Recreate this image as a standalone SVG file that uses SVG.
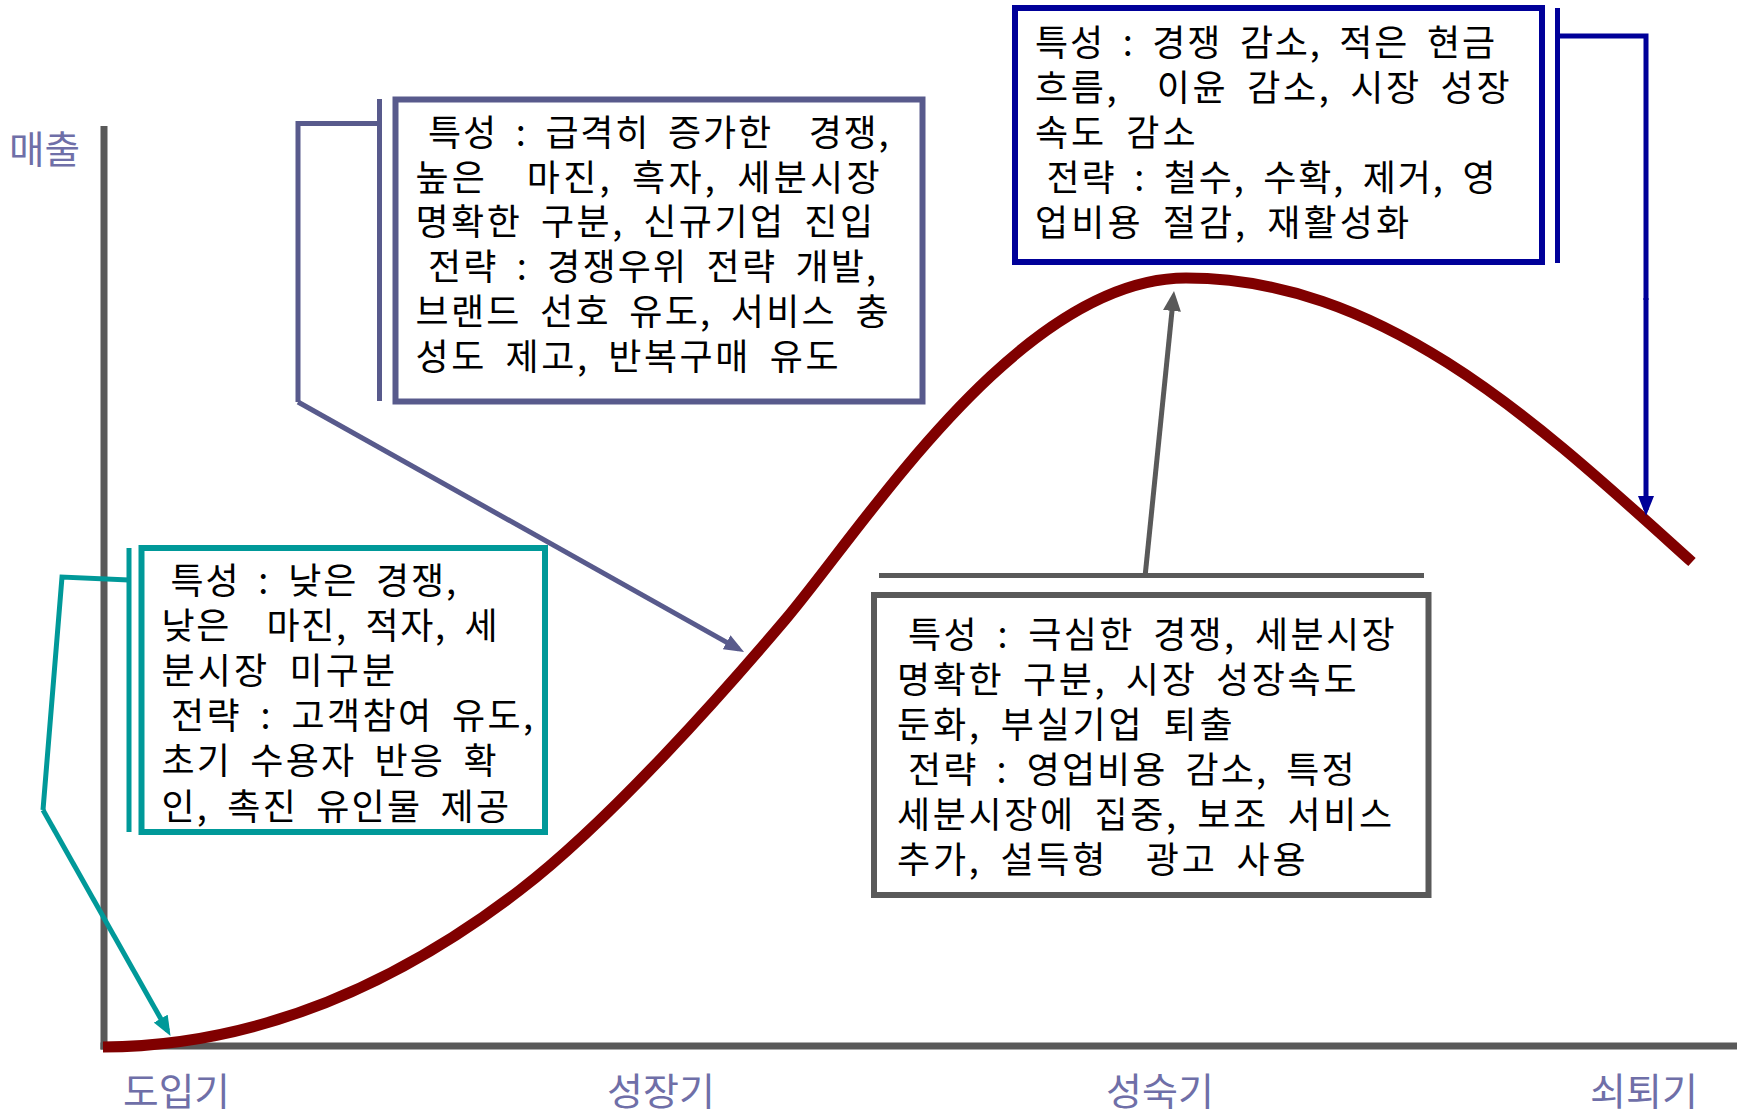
<svg xmlns="http://www.w3.org/2000/svg" width="1740" height="1111" viewBox="0 0 1740 1111" xml:space="preserve">
<style>
.t{font-family:"Noto Sans CJK KR",sans-serif;font-size:36px;fill:#000;white-space:pre;word-spacing:8px}
.ax{font-family:"Noto Sans CJK KR",sans-serif;font-size:38px;fill:#6f6fa8}
.box{fill:#fff;stroke-width:6}
.axis{stroke:#595959;stroke-width:7;fill:none}
.pu{stroke:#585a8c}
.te{stroke:#009999}
.bl{stroke:#000099}
.gr{stroke:#595959}
.ln{fill:none;stroke-width:5}
</style>
<defs>
<marker id="mPu" viewBox="0 0 20 16" markerWidth="20" markerHeight="16" refX="14" refY="8" orient="auto" markerUnits="userSpaceOnUse"><path d="M0,0 L20,8 L0,16 z" fill="#585a8c"/></marker>
<marker id="mTe" viewBox="0 0 20 16" markerWidth="20" markerHeight="16" refX="14" refY="8" orient="auto" markerUnits="userSpaceOnUse"><path d="M0,0 L20,8 L0,16 z" fill="#009999"/></marker>
<marker id="mBl" viewBox="0 0 20 16" markerWidth="20" markerHeight="16" refX="14" refY="8" orient="auto" markerUnits="userSpaceOnUse"><path d="M0,0 L20,8 L0,16 z" fill="#000099"/></marker>
<marker id="mGr" viewBox="0 0 20 18" markerWidth="20" markerHeight="18" refX="14" refY="9" orient="auto" markerUnits="userSpaceOnUse"><path d="M0,0 L20,9 L0,18 z" fill="#595959"/></marker>
</defs>
<rect width="1740" height="1111" fill="#fff"/>

<g id="axes">
<line class="axis" x1="104" y1="126" x2="104" y2="1049.5"/>
<line class="axis" x1="100.5" y1="1046" x2="1737" y2="1046"/>
<text class="ax" x="9" y="163" textLength="71" lengthAdjust="spacingAndGlyphs">매출</text>
<text class="ax" x="123" y="1105" textLength="107" lengthAdjust="spacingAndGlyphs">도입기</text>
<text class="ax" x="607" y="1105" textLength="108" lengthAdjust="spacingAndGlyphs">성장기</text>
<text class="ax" x="1106" y="1105" textLength="108" lengthAdjust="spacingAndGlyphs">성숙기</text>
<text class="ax" x="1590" y="1105" textLength="108" lengthAdjust="spacingAndGlyphs">쇠퇴기</text>
</g>

<g id="curve">
<path d="M103,1047 C260,1046 400,982 520,890 C610,821 725,690.8 785,620 C865,525.6 1020,278 1186,278 C1386,278 1542,427 1692,562" fill="none" stroke="#800000" stroke-width="11"/>
</g>

<g id="connectors">
<line class="ln pu" x1="379.5" y1="99" x2="379.5" y2="401"/>
<polyline class="ln pu" points="379.5,123.5 298,123.5 298,402"/>
<line class="ln pu" stroke-width="4.5" x1="298" y1="402" x2="738.8" y2="649.1" marker-end="url(#mPu)"/>

<line class="ln te" x1="129" y1="548" x2="129" y2="832"/>
<polyline class="ln te" points="129,580 62,577 43,810"/>
<line class="ln te" x1="43" y1="810" x2="167.6" y2="1030.8" marker-end="url(#mTe)"/>

<line class="ln bl" x1="1557.5" y1="8" x2="1557.5" y2="263"/>
<polyline class="ln bl" points="1557.5,36 1646,36 1646,300"/>
<line class="ln bl" x1="1646" y1="298" x2="1646" y2="510" marker-end="url(#mBl)"/>

<line class="ln gr" x1="879" y1="575.5" x2="1424" y2="575.5"/>
<line class="ln gr" stroke-width="5.5" x1="1145" y1="577" x2="1173.4" y2="297" marker-end="url(#mGr)"/>
</g>

<g id="node-growth">
<rect class="box pu" x="395.5" y="99.5" width="527" height="302"/>
<text class="t" x="428" y="146" textLength="460.5" lengthAdjust="spacing">특성 : 급격히 증가한  경쟁,</text>
<text class="t" x="415.5" y="190.7" textLength="464" lengthAdjust="spacing">높은  마진, 흑자, 세분시장</text>
<text class="t" x="415.5" y="235.4" textLength="457.5" lengthAdjust="spacing">명확한 구분, 신규기업 진입</text>
<text class="t" x="428" y="280.1" textLength="448" lengthAdjust="spacing">전략 : 경쟁우위 전략 개발,</text>
<text class="t" x="415.5" y="324.8" textLength="473" lengthAdjust="spacing">브랜드 선호 유도, 서비스 충</text>
<text class="t" x="415.5" y="369.5" textLength="423" lengthAdjust="spacing">성도 제고, 반복구매 유도</text>
</g>

<g id="node-intro">
<rect class="box te" x="141.5" y="548" width="403.5" height="284"/>
<text class="t" x="170.5" y="593.5" textLength="285.5" lengthAdjust="spacing">특성 : 낮은 경쟁,</text>
<text class="t" x="161.5" y="638.7" textLength="336" lengthAdjust="spacing">낮은  마진, 적자, 세</text>
<text class="t" x="161.5" y="683.9" textLength="233.5" lengthAdjust="spacing">분시장 미구분</text>
<text class="t" x="171" y="729.1" textLength="362" lengthAdjust="spacing">전략 : 고객참여 유도,</text>
<text class="t" x="161.5" y="774.3" textLength="335" lengthAdjust="spacing">초기 수용자 반응 확</text>
<text class="t" x="161.5" y="819.5" textLength="347.5" lengthAdjust="spacing">인, 촉진 유인물 제공</text>
</g>

<g id="node-maturity">
<rect class="box gr" x="874" y="595" width="554.5" height="300"/>
<text class="t" x="908" y="647.5" textLength="486.5" lengthAdjust="spacing">특성 : 극심한 경쟁, 세분시장</text>
<text class="t" x="897" y="692.5" textLength="459.5" lengthAdjust="spacing">명확한 구분, 시장 성장속도</text>
<text class="t" x="897" y="737.5" textLength="335.5" lengthAdjust="spacing">둔화, 부실기업 퇴출</text>
<text class="t" x="908" y="782.5" textLength="446.5" lengthAdjust="spacing">전략 : 영업비용 감소, 특정</text>
<text class="t" x="897" y="827.5" textLength="495" lengthAdjust="spacing">세분시장에 집중, 보조 서비스</text>
<text class="t" x="897" y="872.5" textLength="408.5" lengthAdjust="spacing">추가, 설득형  광고 사용</text>
</g>

<g id="node-decline">
<rect class="box bl" x="1015" y="8" width="527" height="254"/>
<text class="t" x="1035" y="55.5" textLength="460" lengthAdjust="spacing">특성 : 경쟁 감소, 적은 현금</text>
<text class="t" x="1035" y="100.5" textLength="474.5" lengthAdjust="spacing">흐름,  이윤 감소, 시장 성장</text>
<text class="t" x="1035" y="145.5" textLength="160.5" lengthAdjust="spacing">속도 감소</text>
<text class="t" x="1046.5" y="190.5" textLength="449" lengthAdjust="spacing">전략 : 철수, 수확, 제거, 영</text>
<text class="t" x="1035" y="235.5" textLength="374" lengthAdjust="spacing">업비용 절감, 재활성화</text>
</g>
</svg>
